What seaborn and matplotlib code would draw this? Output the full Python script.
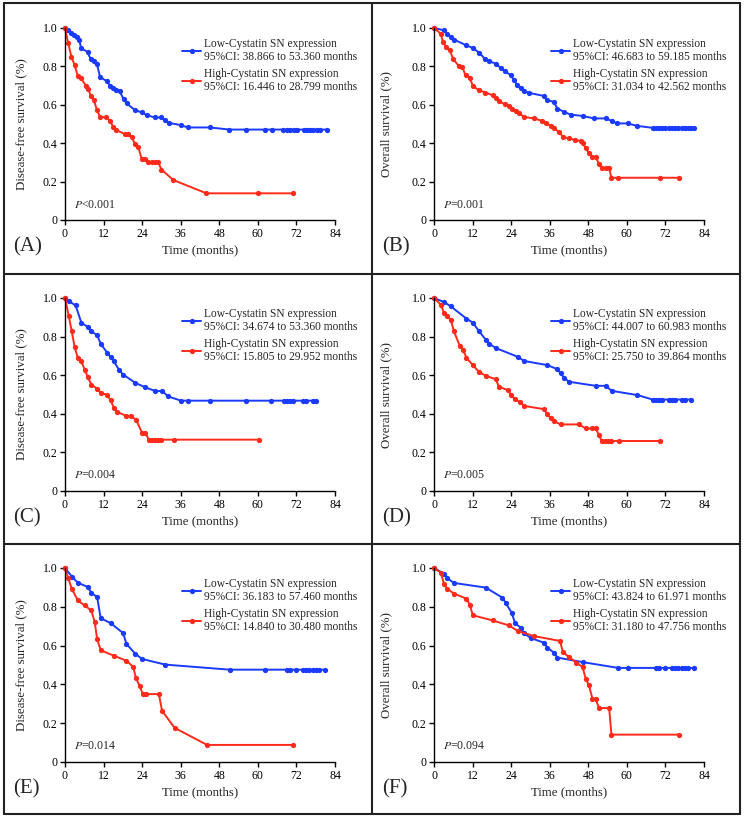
import numpy as np
import pandas as pd
import matplotlib
matplotlib.use('Agg')
import matplotlib.pyplot as plt
from matplotlib.lines import Line2D
import seaborn as sns

# (time in months, survival)
a_low = [(0,1.0),(1,0.99),(1.9,0.976),(2.8,0.965),(3.8,0.953),(4.4,0.94),(5,0.896),(7,0.875),(8,0.837),(9,0.83),(9.9,0.815),(10.9,0.745),(13,0.723),(14,0.70),(15,0.685),(16,0.676),(17,0.672),(18.2,0.629),(19.2,0.607),(21.8,0.572),(23.9,0.56),(25.4,0.546),(28,0.534),(30,0.534),(31.1,0.52),(32.2,0.506),(36.1,0.494),(38.2,0.482),(45.1,0.482),(51.1,0.471),(56.2,0.471),(62.2,0.471),(64.3,0.471),(67.9,0.471),(69,0.471),(70,0.471),(71.1,0.471),(72.1,0.471),(74.2,0.471),(75.2,0.471),(76.3,0.471),(77.3,0.471),(78.3,0.471),(79.3,0.471),(81.4,0.471)]
a_high = [(0,1.0),(1,0.92),(2,0.85),(3,0.806),(4,0.749),(5,0.737),(6.5,0.70),(7.3,0.68),(8,0.646),(9,0.624),(9.9,0.575),(10.9,0.537),(12.9,0.534),(14,0.516),(15,0.485),(16,0.468),(18.7,0.447),(19.7,0.447),(20.7,0.433),(21.8,0.395),(22.8,0.381),(23.8,0.32),(24.9,0.32),(25.9,0.30),(27,0.30),(28,0.30),(29,0.30),(30,0.263),(33.7,0.208),(44,0.139),(60,0.139),(71,0.139)]

b_low = [(0,1.0),(3.1,0.988),(4.1,0.97),(5.2,0.953),(6.2,0.94),(10,0.91),(12.1,0.896),(14,0.872),(16,0.837),(17.1,0.827),(19.2,0.815),(20.7,0.792),(22,0.776),(23.9,0.754),(24.9,0.728),(25.9,0.702),(27,0.69),(28,0.672),(29.6,0.662),(34.2,0.646),(35.3,0.624),(37.3,0.615),(38.4,0.58),(40.5,0.563),(42.5,0.549),(46.2,0.542),(49.8,0.529),(53.4,0.529),(55.3,0.516),(57,0.503),(60.2,0.503),(63.3,0.49),(68,0.48),(69,0.48),(70,0.48),(71,0.48),(72,0.48),(73,0.48),(74,0.48),(75,0.48),(76,0.48),(77,0.48),(78,0.48),(79,0.48),(80,0.48),(81,0.48)]
b_high = [(0,1.0),(2.1,0.97),(2.8,0.927),(3.8,0.90),(4.9,0.887),(5.9,0.84),(7.8,0.80),(8.8,0.797),(9.8,0.754),(11.1,0.742),(12.1,0.697),(14,0.676),(16,0.664),(18.2,0.65),(19.2,0.633),(20.2,0.619),(22,0.603),(23.3,0.593),(24.4,0.58),(25.4,0.567),(26.5,0.555),(28,0.537),(31.1,0.529),(33.7,0.516),(34.8,0.506),(36.3,0.49),(37.3,0.477),(38.9,0.459),(40.1,0.433),(42,0.425),(44,0.416),(45.6,0.412),(46.4,0.399),(47.2,0.373),(48.2,0.35),(49.3,0.329),(50.3,0.329),(51.3,0.291),(52.2,0.269),(53.4,0.269),(54.5,0.269),(55.2,0.22),(57.3,0.22),(70.2,0.22),(76.2,0.22)]

c_low = [(0,1.0),(1.2,0.983),(3.3,0.962),(5.1,0.872),(7.1,0.85),(8.2,0.827),(10,0.807),(11.1,0.763),(13.1,0.717),(14.2,0.694),(15.2,0.672),(16.9,0.625),(18.1,0.603),(21.9,0.56),(25,0.537),(28.1,0.518),(30.2,0.518),(32.1,0.49),(36.1,0.468),(38.2,0.468),(45.2,0.468),(56.3,0.468),(64.1,0.468),(68,0.468),(69,0.468),(70,0.468),(71,0.468),(74,0.468),(75,0.468),(77,0.468),(78,0.468)]
c_high = [(0,1.0),(1.2,0.905),(2.1,0.827),(3,0.746),(4,0.689),(5.1,0.672),(6.1,0.629),(7.1,0.59),(8.2,0.551),(10,0.53),(11.1,0.51),(13.1,0.497),(14.2,0.47),(15.2,0.43),(16.2,0.41),(19.1,0.389),(20.4,0.389),(22.1,0.37),(24,0.30),(25,0.30),(26.1,0.266),(27,0.266),(28,0.266),(29,0.266),(30,0.266),(33.8,0.266),(60.5,0.266)]

d_low = [(0,1.0),(3.1,0.979),(5.2,0.957),(10.1,0.893),(12.1,0.872),(14,0.828),(16.1,0.784),(17.1,0.764),(19.2,0.741),(26.1,0.695),(28,0.674),(35.3,0.652),(38.4,0.631),(39.4,0.609),(40.5,0.586),(42,0.566),(50.3,0.545),(53.4,0.545),(55.3,0.519),(63.3,0.497),(68,0.474),(69,0.474),(70,0.474),(71,0.474),(73,0.474),(74,0.474),(75,0.474),(77,0.474),(78,0.474),(80,0.474)]
d_high = [(0,1.0),(2.1,0.966),(3.1,0.924),(4.1,0.905),(5.2,0.888),(6.2,0.828),(8,0.752),(9,0.733),(10.1,0.69),(12.1,0.652),(14,0.617),(16.1,0.597),(19.2,0.579),(20.2,0.54),(23,0.522),(24.1,0.497),(25.1,0.476),(26.9,0.459),(28,0.441),(34.2,0.424),(35.3,0.397),(36.3,0.376),(37.3,0.362),(39.4,0.345),(45.1,0.345),(47.2,0.324),(49.3,0.324),(50.3,0.324),(51.3,0.29),(52.2,0.259),(53.2,0.259),(54.2,0.259),(55.2,0.259),(57.4,0.259),(70.2,0.259)]

e_low = [(0,1.0),(2.3,0.953),(4,0.924),(7.1,0.902),(8.2,0.872),(10,0.85),(11.1,0.741),(14.2,0.716),(18.1,0.664),(19.1,0.609),(21.9,0.557),(24,0.531),(31.2,0.502),(51.2,0.476),(62.3,0.476),(69,0.476),(70,0.476),(72,0.476),(74,0.476),(75,0.476),(76,0.476),(77,0.476),(78,0.476),(79,0.476),(81,0.476)]
e_high = [(0,1.0),(1,0.948),(2.1,0.893),(4,0.833),(6.1,0.807),(8.2,0.781),(9.2,0.724),(10,0.634),(11.1,0.576),(15.2,0.548),(19.1,0.522),(21.2,0.491),(22.1,0.431),(23.2,0.393),(24.2,0.35),(25.2,0.35),(29.2,0.35),(30.2,0.264),(34.1,0.176),(44.2,0.088),(71,0.088)]

f_low = [(0,1.0),(3.1,0.971),(4.1,0.948),(6.2,0.923),(16.1,0.899),(21.3,0.847),(22.3,0.82),(24.2,0.768),(25.2,0.716),(27,0.692),(28,0.664),(30.1,0.639),(34.2,0.615),(35.3,0.589),(37.3,0.564),(38.4,0.538),(46.2,0.515),(57.3,0.485),(60.2,0.485),(69,0.485),(70,0.485),(72,0.485),(74,0.485),(75,0.485),(76,0.485),(77,0.485),(78,0.485),(79,0.485),(81,0.485)]
f_high = [(0,1.0),(2.1,0.976),(3.1,0.919),(4.1,0.893),(6.2,0.868),(10.1,0.842),(11.1,0.811),(12.1,0.756),(18.2,0.73),(23.3,0.704),(26.1,0.675),(31.1,0.649),(39.2,0.624),(40.1,0.567),(42,0.541),(44.3,0.512),(46.2,0.49),(47.2,0.43),(48.2,0.395),(49.3,0.326),(50.3,0.326),(51.3,0.278),(54.5,0.278),(55.2,0.141),(76.2,0.141)]

letters = ['(A)', '(B)', '(C)', '(D)', '(E)', '(F)']
ylabels = ['Disease-free survival (%)', 'Overall survival (%)'] * 3
pvalues = ['<0.001', '=0.001', '=0.004', '=0.005', '=0.014', '=0.094']
low_ci = ['38.866 to 53.360', '46.683 to 59.185', '34.674 to 53.360',
          '44.007 to 60.983', '36.183 to 57.460', '43.824 to 61.971']
high_ci = ['16.446 to 28.799', '31.034 to 42.562', '15.805 to 29.952',
           '25.750 to 39.864', '14.840 to 30.480', '31.180 to 47.756']
curves = [(a_low, a_high), (b_low, b_high), (c_low, c_high),
          (d_low, d_high), (e_low, e_high), (f_low, f_high)]
xticks = [0, 12, 24, 36, 48, 60, 72, 84]

sns.set_style('white')
plt.rcParams['font.family'] = ['Liberation Serif', 'DejaVu Serif']
plt.rcParams['mathtext.fontset'] = 'stix'

BLUE = '#1a3aff'
RED = '#ff2a1a'
W, H = 744, 818
fig = plt.figure(figsize=(W / 100, H / 100), dpi=100)

def fx(x):
    return x / W

def fy(y):
    return 1 - y / H

# axes boxes in pixels: left, top, right, bottom
cols = [(65, 335), (434, 704)]
rows = [(28, 220), (298, 491), (568, 762)]
ms = 3.8
lwc = 1.4

for i in range(6):
    r, c = divmod(i, 2)
    l, rt = cols[c]
    t, b = rows[r]
    ax = fig.add_axes([fx(l), fy(b), (rt - l) / W, (b - t) / H])
    low, high = curves[i]
    df = pd.DataFrame(
        [(tm, s, 'Low') for tm, s in low] + [(tm, s, 'High') for tm, s in high],
        columns=['time', 'survival', 'group'])
    sns.lineplot(data=df, x='time', y='survival', hue='group',
                 hue_order=['Low', 'High'], palette=[BLUE, RED],
                 estimator=None, sort=True, marker='o', markersize=ms,
                 markeredgewidth=0, linewidth=lwc, legend=False, ax=ax,
                 clip_on=False)
    ax.set_xlim(0, 84)
    ax.set_ylim(0, 1.0)
    ax.set_xticks(xticks)
    ax.set_yticks([0, 0.2, 0.4, 0.6, 0.8, 1.0])
    ax.set_yticklabels(['0', '0.2', '0.4', '0.6', '0.8', '1.0'])
    for side in ['top', 'right']:
        ax.spines[side].set_visible(False)
    for side in ['left', 'bottom']:
        ax.spines[side].set_color('black')
        ax.spines[side].set_linewidth(1.0)
    ax.tick_params(direction='out', length=3.5, width=1.0, colors='black',
                   labelsize=8.5, pad=2, left=True, bottom=True)
    ax.set_xlabel('Time (months)', fontsize=9.3)
    ax.set_ylabel(ylabels[i], fontsize=9.3)
    ax.xaxis.set_label_coords(0.5, -0.125)
    ax.yaxis.set_label_coords(-0.14 if c == 0 else -0.155, 0.5)
    ax.text(2.8, 0.065, '$\\mathit{P}$' + pvalues[i], fontsize=8.5)

    handles = [Line2D([], [], color=BLUE, marker='o', markersize=ms,
                      markeredgewidth=0, linewidth=lwc),
               Line2D([], [], color=RED, marker='o', markersize=ms,
                      markeredgewidth=0, linewidth=lwc)]
    labels = ['Low-Cystatin SN expression\n95%CI: ' + low_ci[i] + ' months',
              'High-Cystatin SN expression\n95%CI: ' + high_ci[i] + ' months']
    leg = ax.legend(handles, labels, loc='upper left',
                    bbox_to_anchor=(0.435, 0.95),
                    frameon=False, fontsize=8.3, borderpad=0, borderaxespad=0,
                    handlelength=1.6, handletextpad=0.3, labelspacing=0.4)
    for txt in leg.get_texts():
        txt.set_linespacing(1.15)

    fig.text(fx(l - 52), fy(b + 27), letters[i], fontsize=15,
             ha='left', va='center')

# panel frame
lw = 1.5
for x in [4, 372, 740]:
    fig.add_artist(Line2D([fx(x), fx(x)], [fy(3), fy(814)], color='#222222',
                          linewidth=lw))
for y in [3, 274, 544, 814]:
    fig.add_artist(Line2D([fx(4), fx(740)], [fy(y), fy(y)], color='#222222',
                          linewidth=lw))

fig.savefig('out.png', dpi=100)
